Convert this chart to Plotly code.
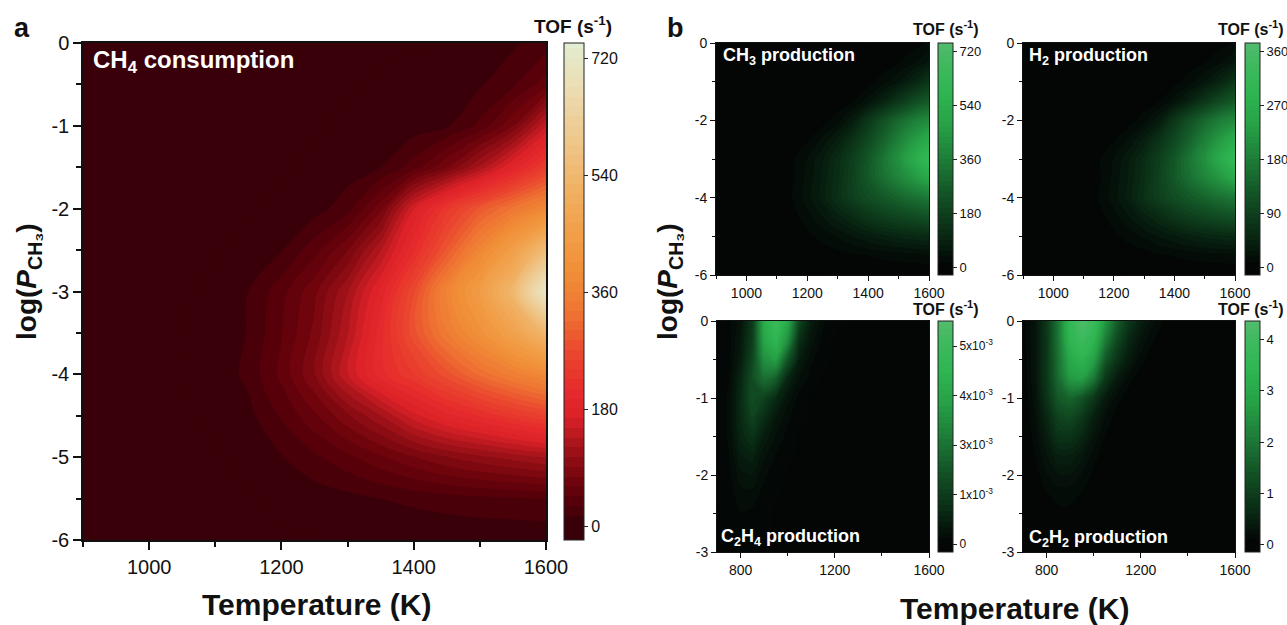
import plotly.graph_objects as go

W, H = 1287, 625

# ---------------- data ----------------
# panel a / top row of b: temperature (K) and log(P_CH3) grid
temp_ab = [900, 950, 1000, 1050, 1100, 1150, 1200, 1250, 1300, 1350, 1400, 1450, 1500, 1550, 1600]
logp_ab = [0.0, -0.5, -1.0, -1.5, -2.0, -2.5, -3.0, -3.5, -4.0, -4.5, -5.0, -5.5, -6.0]

ch4_consumption = [
    [0, 0, 0, 0, 0, 0, 0, 0, 0, 0, 0, 2, 5, 13, 24],
    [0, 0, 0, 0, 0, 0, 0, 0, 0, 2, 4, 6, 14, 28, 55],
    [0, 0, 0, 0, 0, 0, 0, 0, 3, 5, 8, 14, 35, 75, 150],
    [0, 0, 0, 0, 0, 0, 0, 3, 8, 16, 38, 75, 125, 185, 245],
    [0, 0, 0, 0, 0, 0, 3, 9, 25, 70, 165, 235, 290, 335, 375],
    [0, 0, 0, 0, 0, 5, 15, 40, 75, 135, 210, 290, 370, 450, 560],
    [0, 0, 0, 0, 3, 16, 40, 72, 120, 185, 270, 365, 440, 540, 720],
    [0, 0, 0, 0, 4, 17, 45, 80, 135, 205, 280, 345, 400, 460, 540],
    [0, 0, 0, 0, 6, 20, 50, 90, 150, 205, 240, 280, 320, 352, 380],
    [0, 0, 0, 0, 3, 11, 33, 58, 88, 120, 160, 190, 212, 235, 255],
    [0, 0, 0, 0, 0, 4, 15, 28, 42, 58, 75, 90, 102, 112, 122],
    [0, 0, 0, 0, 0, 0, 3, 7, 11, 16, 20, 24, 27, 29, 31],
    [0, 0, 0, 0, 0, 0, 0, 0, 1, 1, 2, 2, 3, 3, 4],
]

ch3_production = [
    [0, 0, 0, 0, 0, 0, 0, 0, 0, 0, 0, 2, 5, 11, 20],
    [0, 0, 0, 0, 0, 0, 0, 0, 0, 2, 5, 9, 18, 35, 60],
    [0, 0, 0, 0, 0, 0, 0, 0, 3, 6, 12, 28, 55, 95, 150],
    [0, 0, 0, 0, 0, 0, 0, 3, 8, 18, 45, 90, 150, 210, 260],
    [0, 0, 0, 0, 0, 0, 3, 10, 28, 70, 150, 230, 300, 360, 400],
    [0, 0, 0, 0, 0, 5, 15, 40, 78, 135, 205, 285, 370, 450, 530],
    [0, 0, 0, 0, 3, 15, 38, 70, 115, 175, 250, 335, 420, 520, 620],
    [0, 0, 0, 0, 4, 16, 42, 76, 122, 185, 255, 320, 380, 440, 510],
    [0, 0, 0, 0, 5, 19, 46, 80, 130, 180, 220, 255, 290, 320, 345],
    [0, 0, 0, 0, 3, 10, 30, 54, 82, 112, 148, 175, 195, 215, 235],
    [0, 0, 0, 0, 0, 4, 14, 26, 40, 55, 70, 84, 95, 104, 112],
    [0, 0, 0, 0, 0, 0, 3, 7, 10, 15, 19, 23, 26, 28, 30],
    [0, 0, 0, 0, 0, 0, 0, 1, 2, 3, 3, 4, 4, 4, 4],
]

h2_production = [
    [0, 0, 0, 0, 0, 0, 0, 0, 0, 0, 0, 1, 3, 6, 10],
    [0, 0, 0, 0, 0, 0, 0, 0, 0, 1, 3, 5, 9, 17, 30],
    [0, 0, 0, 0, 0, 0, 0, 0, 2, 3, 6, 14, 28, 48, 75],
    [0, 0, 0, 0, 0, 0, 0, 2, 4, 9, 22, 45, 75, 105, 130],
    [0, 0, 0, 0, 0, 0, 2, 5, 14, 35, 75, 115, 150, 180, 200],
    [0, 0, 0, 0, 0, 3, 8, 20, 39, 68, 103, 143, 185, 225, 265],
    [0, 0, 0, 0, 2, 8, 19, 35, 58, 88, 125, 168, 210, 260, 310],
    [0, 0, 0, 0, 2, 8, 21, 38, 61, 93, 128, 160, 190, 220, 255],
    [0, 0, 0, 0, 3, 10, 23, 40, 65, 90, 110, 128, 145, 160, 172],
    [0, 0, 0, 0, 2, 5, 15, 27, 41, 56, 74, 88, 98, 108, 118],
    [0, 0, 0, 0, 0, 2, 7, 13, 20, 28, 35, 42, 48, 52, 56],
    [0, 0, 0, 0, 0, 0, 2, 4, 5, 8, 10, 12, 13, 14, 15],
    [0, 0, 0, 0, 0, 0, 0, 1, 1, 2, 2, 2, 2, 2, 2],
]

# bottom row of b
temp_c = [700, 750, 800, 850, 900, 950, 1000, 1050, 1100, 1150, 1200, 1250, 1300,
          1350, 1400, 1450, 1500, 1550, 1600]
logp_c = [0.0, -0.25, -0.5, -0.75, -1.0, -1.25, -1.5, -1.75, -2.0, -2.25, -2.5, -2.75, -3.0]

# C2H4 TOF in units of 1e-3 s^-1
c2h4_production = [
    [0, 0.10, 0.40, 1.3, 4.3, 5.4, 4.2, 1.6, 0.60, 0.20, 0.05, 0, 0, 0, 0, 0, 0, 0, 0],
    [0, 0.10, 0.50, 1.4, 4.0, 4.8, 3.4, 1.0, 0.40, 0.10, 0, 0, 0, 0, 0, 0, 0, 0, 0],
    [0, 0.10, 0.60, 1.6, 3.4, 3.8, 2.0, 0.6, 0.20, 0.05, 0, 0, 0, 0, 0, 0, 0, 0, 0],
    [0, 0.15, 0.80, 1.8, 2.6, 2.2, 0.8, 0.3, 0.10, 0, 0, 0, 0, 0, 0, 0, 0, 0, 0],
    [0, 0.20, 0.90, 1.8, 1.5, 0.9, 0.4, 0.1, 0, 0, 0, 0, 0, 0, 0, 0, 0, 0, 0],
    [0, 0.20, 0.90, 1.5, 1.0, 0.5, 0.2, 0.05, 0, 0, 0, 0, 0, 0, 0, 0, 0, 0, 0],
    [0, 0.20, 0.80, 1.1, 0.6, 0.3, 0.1, 0, 0, 0, 0, 0, 0, 0, 0, 0, 0, 0, 0],
    [0, 0.15, 0.60, 0.7, 0.35, 0.15, 0.03, 0, 0, 0, 0, 0, 0, 0, 0, 0, 0, 0, 0],
    [0, 0.10, 0.40, 0.45, 0.2, 0.05, 0, 0, 0, 0, 0, 0, 0, 0, 0, 0, 0, 0, 0],
    [0, 0.08, 0.25, 0.25, 0.1, 0.02, 0, 0, 0, 0, 0, 0, 0, 0, 0, 0, 0, 0, 0],
    [0, 0.05, 0.15, 0.12, 0.05, 0, 0, 0, 0, 0, 0, 0, 0, 0, 0, 0, 0, 0, 0],
    [0, 0.02, 0.08, 0.06, 0.02, 0, 0, 0, 0, 0, 0, 0, 0, 0, 0, 0, 0, 0, 0],
    [0, 0, 0.04, 0.03, 0, 0, 0, 0, 0, 0, 0, 0, 0, 0, 0, 0, 0, 0, 0],
]

c2h2_production = [
    [0.05, 0.30, 0.90, 2.0, 3.6, 4.3, 3.9, 2.6, 1.6, 0.90, 0.50, 0.25, 0.10, 0.04, 0, 0, 0, 0, 0],
    [0.05, 0.30, 0.90, 2.0, 3.4, 3.9, 3.4, 2.1, 1.2, 0.60, 0.30, 0.12, 0.05, 0, 0, 0, 0, 0, 0],
    [0.03, 0.30, 0.90, 1.9, 3.0, 3.3, 2.8, 1.5, 0.8, 0.40, 0.15, 0.05, 0, 0, 0, 0, 0, 0, 0],
    [0.02, 0.30, 0.90, 1.8, 2.6, 2.7, 2.0, 0.9, 0.4, 0.15, 0.05, 0, 0, 0, 0, 0, 0, 0, 0],
    [0.02, 0.25, 0.80, 1.5, 1.7, 1.4, 0.9, 0.4, 0.15, 0.05, 0, 0, 0, 0, 0, 0, 0, 0, 0],
    [0, 0.20, 0.60, 1.1, 1.2, 0.9, 0.5, 0.2, 0.05, 0, 0, 0, 0, 0, 0, 0, 0, 0, 0],
    [0, 0.15, 0.45, 0.8, 0.8, 0.6, 0.3, 0.1, 0, 0, 0, 0, 0, 0, 0, 0, 0, 0, 0],
    [0, 0.10, 0.30, 0.5, 0.5, 0.35, 0.15, 0.05, 0, 0, 0, 0, 0, 0, 0, 0, 0, 0, 0],
    [0, 0.05, 0.20, 0.3, 0.3, 0.2, 0.08, 0, 0, 0, 0, 0, 0, 0, 0, 0, 0, 0, 0],
    [0, 0.02, 0.10, 0.15, 0.15, 0.1, 0.04, 0, 0, 0, 0, 0, 0, 0, 0, 0, 0, 0, 0],
    [0, 0, 0.05, 0.08, 0.08, 0.05, 0, 0, 0, 0, 0, 0, 0, 0, 0, 0, 0, 0, 0],
    [0, 0, 0, 0.04, 0.04, 0, 0, 0, 0, 0, 0, 0, 0, 0, 0, 0, 0, 0, 0],
    [0, 0, 0, 0, 0, 0, 0, 0, 0, 0, 0, 0, 0, 0, 0, 0, 0, 0, 0],
]

# tick labels
a_xticks = [1000, 1200, 1400, 1600]
a_yticks = [0, -1, -2, -3, -4, -5, -6]
a_ytext = ["0", "-1", "-2", "-3", "-4", "-5", "-6"]
top_xticks = [1000, 1200, 1400, 1600]
top_yticks = [0, -2, -4, -6]
top_ytext = ["0", "-2", "-4", "-6"]
bot_xticks = [800, 1200, 1600]
bot_yticks = [0, -1, -2, -3]
bot_ytext = ["0", "-1", "-2", "-3"]
cb_a_ticks = [0, 180, 360, 540, 720]
cb_ch3_ticks = [0, 180, 360, 540, 720]
cb_h2_ticks = [0, 90, 180, 270, 360]
cb_c2h4_ticks = [0, 1.35, 2.7, 4.05, 5.4]
cb_c2h4_text = ["0", "1x10<sup>-3</sup>", "3x10<sup>-3</sup>", "4x10<sup>-3</sup>", "5x10<sup>-3</sup>"]
cb_c2h2_ticks = [0, 1, 2, 3, 4]

# ---------------- styles ----------------
FONT = "Arial, Liberation Sans, sans-serif"

red_scale = [
    [0.00, "#3a0009"], [0.041, "#3a0009"], [0.06, "#4a0009"], [0.08, "#58000a"],
    [0.11, "#6a030c"], [0.15, "#860a12"], [0.20, "#b0161d"], [0.25, "#dc2228"],
    [0.30, "#e62a2c"], [0.38, "#ea482e"], [0.45, "#ee7032"], [0.52, "#f08a35"],
    [0.60, "#f19c44"], [0.70, "#f1b062"], [0.80, "#efc68a"], [0.90, "#ecdbae"],
    [1.00, "#e3edd2"],
]
green_scale = [
    [0.00, "#030605"], [0.045, "#030605"], [0.10, "#05140b"], [0.20, "#0a3016"],
    [0.35, "#135426"], [0.50, "#1d7d38"], [0.65, "#27a247"], [0.78, "#2eb551"],
    [0.90, "#3cb95d"], [1.00, "#52bb6d"],
]


def px_x(p):
    return p / W


def px_y(p):
    return 1 - p / H


fig = go.Figure()


def add_panel(idx, x, y, z, scale, start, end, size, cb_left, cb_top, cb_len, cb_thick,
              cb_ticks, cb_text, cb_font):
    fig.add_trace(go.Contour(
        x=x, y=y, z=z,
        colorscale=scale,
        autocontour=False,
        contours=dict(start=start, end=end, size=size, coloring="fill", showlines=False),
        line=dict(width=0),
        xaxis="x" + ("" if idx == 1 else str(idx)),
        yaxis="y" + ("" if idx == 1 else str(idx)),
        hoverinfo="skip",
        colorbar=dict(
            x=px_x(cb_left), xanchor="left", xpad=0, ypad=0,
            y=px_y(cb_top), yanchor="top",
            len=cb_len, lenmode="pixels",
            thickness=cb_thick, thicknessmode="pixels",
            outlinewidth=1, outlinecolor="#222",
            tickmode="array", tickvals=cb_ticks, ticktext=cb_text,
            ticks="outside", ticklen=4, tickwidth=1, tickcolor="#222",
            tickfont=dict(family=FONT, size=cb_font, color="#111"),
        ),
    ))


add_panel(1, temp_ab, logp_ab, ch4_consumption, red_scale, -14, 736, 15,
          564, 43, 497, 20, cb_a_ticks, [str(v) for v in cb_a_ticks], 16)
add_panel(2, temp_ab, logp_ab, ch3_production, green_scale, -17, 739, 18,
          938, 43, 232, 15, cb_ch3_ticks, [str(v) for v in cb_ch3_ticks], 13)
add_panel(3, temp_ab, logp_ab, h2_production, green_scale, -8.5, 369.5, 9,
          1245, 43, 232, 15, cb_h2_ticks, [str(v) for v in cb_h2_ticks], 13)
add_panel(4, temp_c, logp_c, c2h4_production, green_scale, -0.14, 6.01, 0.15,
          938, 321, 231, 15, cb_c2h4_ticks, cb_c2h4_text, 12)
add_panel(5, temp_c, logp_c, c2h2_production, green_scale, -0.09, 4.31, 0.1,
          1245, 321, 231, 15, cb_c2h2_ticks, [str(v) for v in cb_c2h2_ticks], 13)


def axis_common(lw, tickfont, ticklen):
    return dict(
        showline=True, linecolor="#111", linewidth=lw, mirror=True,
        ticks="outside", ticklen=ticklen, tickwidth=lw, tickcolor="#111",
        tickfont=dict(family=FONT, size=tickfont, color="#111"),
        showgrid=False, zeroline=False, tickmode="array", automargin=False,
    )


layout = dict(
    width=W, height=H, margin=dict(l=0, r=0, t=0, b=0, autoexpand=False),
    paper_bgcolor="white", plot_bgcolor="black", showlegend=False,
)

# panel a axes
layout["xaxis"] = dict(axis_common(1.5, 20, 8), domain=[px_x(83), px_x(546)], range=[900, 1600],
                       tickvals=a_xticks, anchor="y",
                       minor=dict(dtick=100, ticklen=5, ticks="outside", tickcolor="#111", tickwidth=1.5))
layout["yaxis"] = dict(axis_common(1.5, 20, 8), domain=[px_y(540), px_y(43)], range=[-6, 0],
                       tickvals=a_yticks, ticktext=a_ytext, anchor="x",
                       minor=dict(dtick=0.5, ticklen=5, ticks="outside", tickcolor="#111", tickwidth=1.5))

b_boxes = {
    2: (716, 929, 43, 275, [900, 1600], [-6, 0], top_xticks, top_yticks, top_ytext, 100, 1),
    3: (1023, 1235, 43, 275, [900, 1600], [-6, 0], top_xticks, top_yticks, top_ytext, 100, 1),
    4: (717, 929, 321, 552, [700, 1600], [-3, 0], bot_xticks, bot_yticks, bot_ytext, 200, 0.5),
    5: (1023, 1235, 321, 552, [700, 1600], [-3, 0], bot_xticks, bot_yticks, bot_ytext, 200, 0.5),
}
for i, (x0, x1, y0, y1, xr, yr, xt, yt, ytt, xminor, yminor) in b_boxes.items():
    layout["xaxis%d" % i] = dict(axis_common(1, 14, 5), domain=[px_x(x0), px_x(x1)], range=xr,
                                 tickvals=xt, anchor="y%d" % i,
                                 minor=dict(dtick=xminor, ticklen=3, ticks="outside", tickcolor="#111"))
    layout["yaxis%d" % i] = dict(axis_common(1, 14, 5), domain=[px_y(y1), px_y(y0)], range=yr,
                                 tickvals=yt, ticktext=ytt, anchor="x%d" % i,
                                 minor=dict(dtick=yminor, ticklen=3, ticks="outside", tickcolor="#111"))

fig.update_layout(**layout)


def ann(text, x, y, size, color="#111", angle=0, xanchor="center", yanchor="middle"):
    fig.add_annotation(text=text, x=px_x(x), y=px_y(y), xref="paper", yref="paper",
                       showarrow=False, textangle=angle, xanchor=xanchor, yanchor=yanchor,
                       font=dict(family=FONT, size=size, color=color))


# panel letters
ann("<b>a</b>", 22, 28, 27)
ann("<b>b</b>", 675, 28, 27)

# axis titles
ann("<b>Temperature (K)</b>", 316, 604, 30)
ann("<b>Temperature (K)</b>", 1014, 608, 30)
ann("<b>log(<i>P</i><sub>CH₃</sub>)</b>", 28, 282, 28, angle=-90)
ann("<b>log(<i>P</i><sub>CH₃</sub>)</b>", 669, 282, 28, angle=-90)

# colorbar titles
ann("<b>TOF (s<sup>-1</sup>)</b>", 573, 25, 19)
ann("<b>TOF (s<sup>-1</sup>)</b>", 946, 28, 16)
ann("<b>TOF (s<sup>-1</sup>)</b>", 1251, 28, 16)
ann("<b>TOF (s<sup>-1</sup>)</b>", 946, 308, 16)
ann("<b>TOF (s<sup>-1</sup>)</b>", 1251, 308, 16)

# in-plot labels
ann("<b>CH<sub>4</sub> consumption</b>", 91, 62, 24, color="white", xanchor="left")
ann("<b>CH<sub>3</sub> production</b>", 721, 56, 18, color="white", xanchor="left")
ann("<b>H<sub>2</sub> production</b>", 1027, 56, 18, color="white", xanchor="left")
ann("<b>C<sub>2</sub>H<sub>4</sub> production</b>", 719, 537, 18, color="white", xanchor="left")
ann("<b>C<sub>2</sub>H<sub>2</sub> production</b>", 1027, 538, 18, color="white", xanchor="left")

fig.write_html("out.html", config={"displayModeBar": False},
               post_script="document.body.style.margin='0';document.body.style.overflow='hidden';")
